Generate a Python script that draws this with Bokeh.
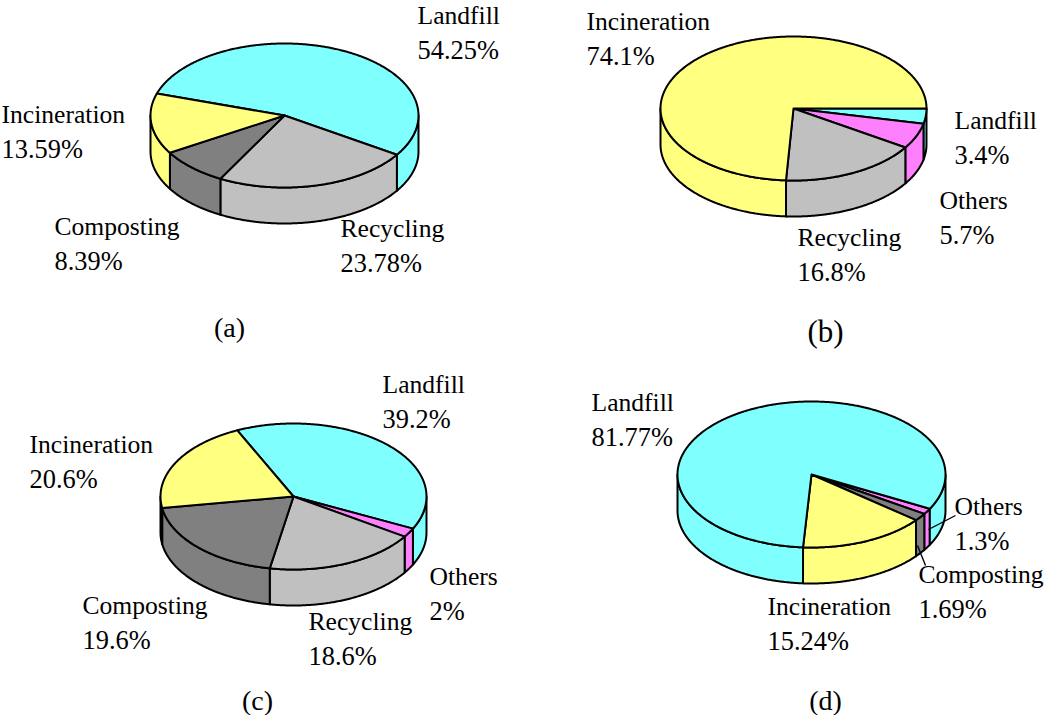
import numpy as np
from bokeh.core.properties import value
from bokeh.embed import file_html
from bokeh.models import ColumnDataSource, Range1d
from bokeh.plotting import figure
from bokeh.resources import INLINE

# Waste treatment shares, listed clockwise from each pie's first slice edge
a_names = ["Landfill", "Recycling", "Composting", "Incineration"]
a_values = [54.25, 23.78, 8.39, 13.59]
b_names = ["Landfill", "Others", "Recycling", "Incineration"]
b_values = [3.4, 5.7, 16.8, 74.1]
c_names = ["Landfill", "Others", "Recycling", "Composting", "Incineration"]
c_values = [39.2, 2, 18.6, 19.6, 20.6]
d_names = ["Others", "Composting", "Incineration", "Landfill"]
d_values = [1.3, 1.69, 15.24, 81.77]

COLORS = {
    "Landfill": "#80FFFF",
    "Incineration": "#FFFF80",
    "Recycling": "#C0C0C0",
    "Composting": "#808080",
    "Others": "#FF80FF",
}
FONT = "Liberation Serif"
WIDTH, HEIGHT = 1049, 715
DEPTH = 36
EDGE = 2.0

# Layout of each pie: ellipse centre and radii, first slice edge (degrees clockwise
# from east), label anchors (left x, first line y) and the panel caption.
panels = [
    dict(names=a_names, values=a_values, cx=284, cy=115, rx=134, ry=72, start=-162.3,
         anchors={"Landfill": (417, 15), "Recycling": (340, 228),
                  "Composting": (54, 226), "Incineration": (1, 114)},
         caption="(a)", cap_x=229, cap_y=327, cap_size=28),
    dict(names=b_names, values=b_values, cx=793, cy=108, rx=133, ry=72, start=0,
         anchors={"Landfill": (954, 120), "Others": (939, 200),
                  "Recycling": (797, 237), "Incineration": (586, 21)},
         caption="(b)", cap_x=825, cap_y=331, cap_size=31),
    dict(names=c_names, values=c_values, cx=293, cy=496, rx=133, ry=73, start=-115,
         anchors={"Landfill": (382, 384), "Others": (429, 576), "Recycling": (308, 621),
                  "Composting": (82, 605), "Incineration": (29, 444)},
         caption="(c)", cap_x=257, cap_y=700, cap_size=28),
    dict(names=d_names, values=d_values, cx=811, cy=474, rx=134, ry=73, start=28,
         anchors={"Others": (954, 506), "Composting": (918, 574),
                  "Incineration": (767, 606), "Landfill": (591, 402)},
         caption="(d)", cap_x=825, cap_y=700, cap_size=28),
]
LINE_GAP = 34

# Thin callouts tying the two narrow slices of pie (d) to their labels
leader_x = [[928, 955], [917, 925]]
leader_y = [[529, 515], [545, 565]]

p = figure(width=WIDTH, height=HEIGHT, output_backend="svg", toolbar_location=None,
           x_range=Range1d(0, WIDTH), y_range=Range1d(HEIGHT, 0),
           min_border=0, outline_line_color=None, background_fill_color="white",
           border_fill_color="white")
p.axis.visible = False
p.grid.visible = False


def arc(panel, t0, t1, drop=0.0):
    """Points along the rim between two clockwise angles, lowered by drop."""
    steps = max(2, int(abs(t1 - t0) * 2) + 1)
    t = np.radians(np.linspace(t0, t1, steps))
    return panel["cx"] + panel["rx"] * np.cos(t), panel["cy"] + panel["ry"] * np.sin(t) + drop


for panel in panels:
    shares = np.asarray(panel["values"], dtype=float)
    edges = panel["start"] + np.concatenate([[0.0], np.cumsum(shares)]) * 360.0 / shares.sum()
    fills = [COLORS[n] for n in panel["names"]]

    # Side wall: only the part of each slice on the near half of the rim shows
    side_x, side_y, side_c = [], [], []
    for t0, t1, col in zip(edges[:-1], edges[1:], fills):
        for shift in (-360, 0, 360):
            lo, hi = max(t0 + shift, 0), min(t1 + shift, 180)
            if hi > lo:
                upper_x, upper_y = arc(panel, lo, hi)
                lower_x, lower_y = arc(panel, hi, lo, DEPTH)
                side_x.append(np.concatenate([upper_x, lower_x]))
                side_y.append(np.concatenate([upper_y, lower_y]))
                side_c.append(col)
    p.patches(side_x, side_y, fill_color=side_c, line_color="black", line_width=EDGE,
              line_join="round")

    # Top face wedges
    top_x, top_y = [], []
    for t0, t1 in zip(edges[:-1], edges[1:]):
        rim_x, rim_y = arc(panel, t0, t1)
        top_x.append(np.concatenate([[panel["cx"]], rim_x]))
        top_y.append(np.concatenate([[panel["cy"]], rim_y]))
    p.patches(top_x, top_y, fill_color=fills, line_color="black", line_width=EDGE,
              line_join="round")

    # Two-line labels: category name over its percentage
    name_x, name_y, name_t, pct_x, pct_y, pct_t = [], [], [], [], [], []
    for name, val in zip(panel["names"], panel["values"]):
        x, y = panel["anchors"][name]
        name_x.append(x)
        name_y.append(y)
        name_t.append(name)
        pct_x.append(x)
        pct_y.append(y + LINE_GAP)
        pct_t.append(f"{val:g}%")
    p.text(x="x", y="y", text="text", source=ColumnDataSource(dict(x=name_x, y=name_y, text=name_t)),
           text_font=value(FONT), text_font_size="25.6px", text_color="black",
           text_align="left", text_baseline="middle")
    p.text(x="x", y="y", text="text", source=ColumnDataSource(dict(x=pct_x, y=pct_y, text=pct_t)),
           text_font=value(FONT), text_font_size="26.4px", text_color="black",
           text_align="left", text_baseline="middle")

    p.text(x=[panel["cap_x"]], y=[panel["cap_y"]], text=[panel["caption"]],
           text_font=value(FONT), text_font_size=f'{panel["cap_size"]}px', text_color="black",
           text_align="center", text_baseline="middle")

p.multi_line(leader_x, leader_y, line_color="black", line_width=1.4)

open("out.html", "w").write(file_html(p, INLINE))
